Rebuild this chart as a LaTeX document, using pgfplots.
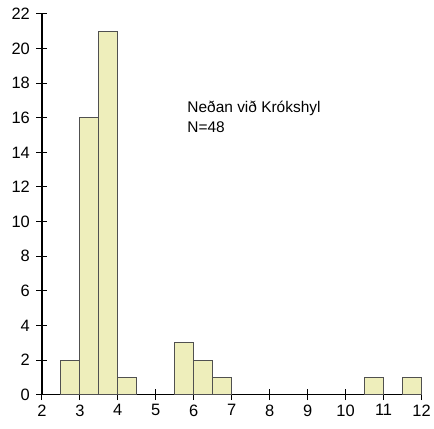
\documentclass[border=0pt]{standalone}
\usepackage{fontspec}
\setmainfont{Liberation Sans}
\usepackage{pgfplots}
\pgfplotsset{compat=1.18}
\definecolor{barfill}{HTML}{EEEEBB}
\definecolor{baredge}{HTML}{505050}
\begin{document}
\begin{tikzpicture}[x=1pt,y=1pt]
\path (-42,-34) rectangle (392,396);
\begin{axis}[
    at={(0,0)}, anchor=origin,
    scale only axis,
    width=381pt, height=382pt,
    xmin=2, xmax=12, ymin=0, ymax=22,
    xtick={2,...,12}, ytick={0,2,...,22},
    axis lines=left,
    axis line style={-, line width=1.6pt, black},
    tick align=center,
    major tick length=11pt,
    tick style={line width=1pt, black},
    /pgf/number format/assume math mode=true,
    tick label style={font=\fontsize{16.5}{18}\selectfont},
    xticklabel style={yshift=-1pt},
    yticklabel style={xshift=-3pt},
    clip=false,
]
\addplot[ybar, bar width=0.5, fill=barfill, draw=baredge, line width=1pt]
    coordinates {(2.75,2) (3.25,16) (3.75,21) (4.25,1) (5.75,3) (6.25,2) (6.75,1) (10.75,1) (11.75,1)};
\node[anchor=north west, align=left, font=\fontsize{15.5}{20}\selectfont, inner sep=0pt]
    at (axis cs:5.83,17.0) {Neðan við Krókshyl\\N=48};
\end{axis}
\end{tikzpicture}
\end{document}
